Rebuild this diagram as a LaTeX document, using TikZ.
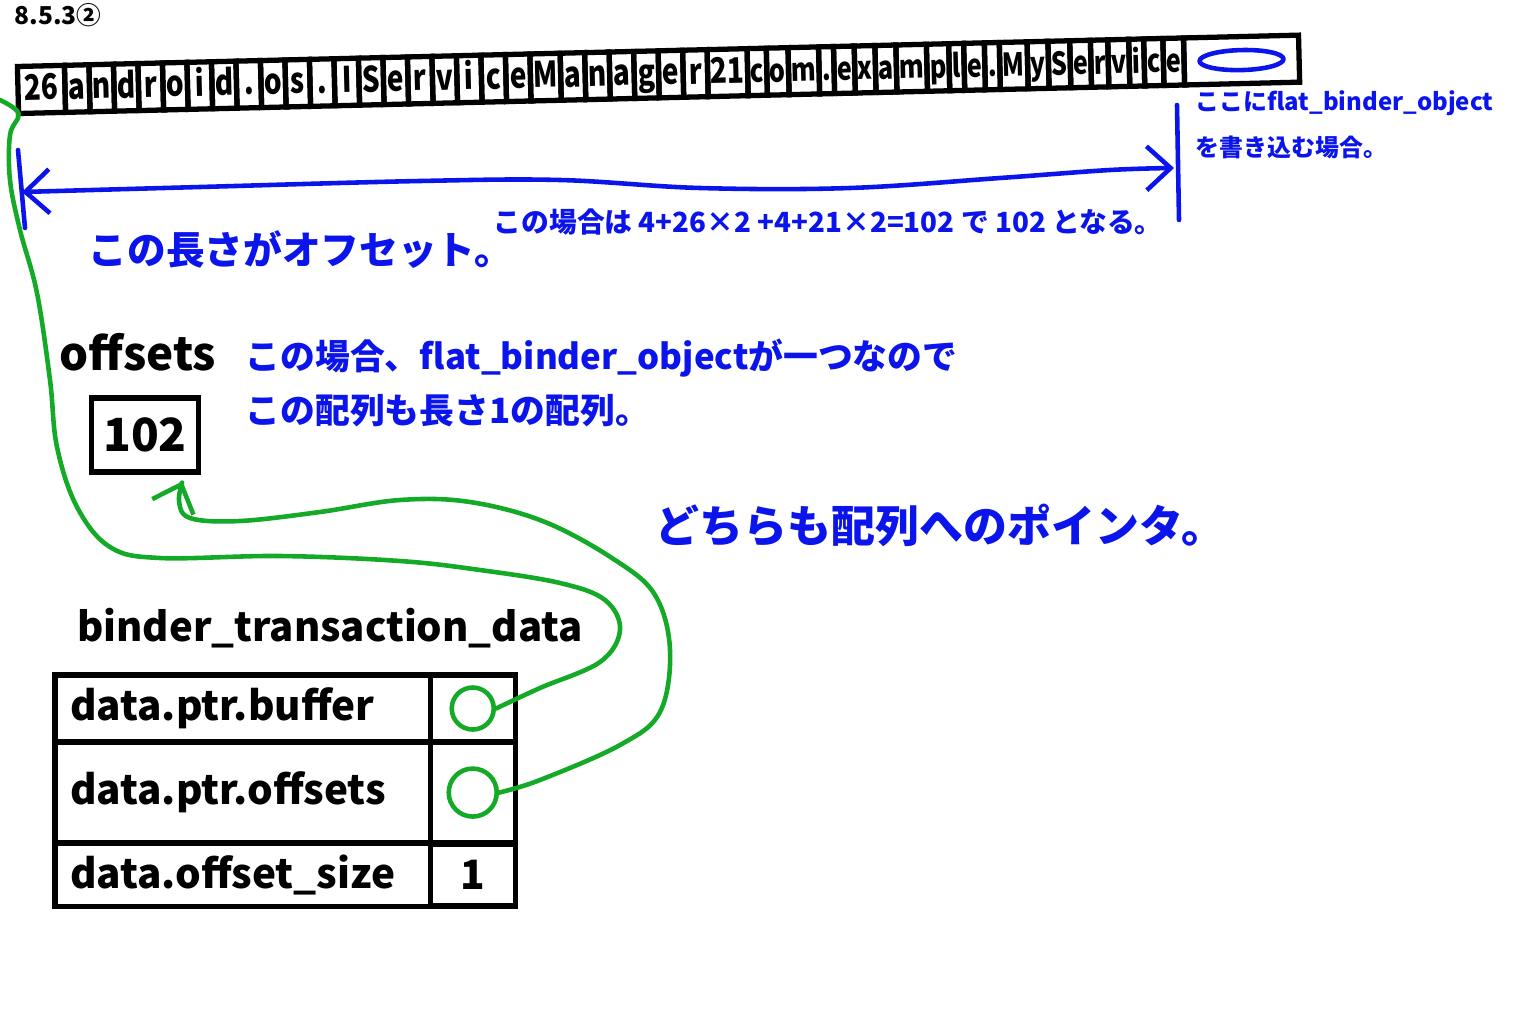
\documentclass[tikz,border=0pt]{standalone}
\usepackage{fontspec}
\setmainfont{Noto Sans CJK JP}
\newfontfamily\cellfont[FakeStretch=0.8]{Noto Sans CJK JP}
\usetikzlibrary{arrows.meta,positioning}
\definecolor{penblue}{RGB}{10,20,235}
\definecolor{pengreen}{RGB}{20,170,40}

\begin{document}
\begin{tikzpicture}[x=0.01cm,y=-0.01cm,every node/.style={font=\bfseries},
    cell/.style={draw,line width=1.5pt,outer sep=0pt,inner xsep=0.8pt,inner ysep=0pt,
      minimum height=0.47cm,text height=1.55ex,text depth=0.45ex,
      font=\fontsize{10}{12}\cellfont\bfseries},
    field/.style={draw,line width=1.5pt,outer sep=0pt,text width=3.45cm,inner xsep=0.15cm,
      align=left,font=\fontsize{11.5}{14}\selectfont\bfseries},
    slot/.style={draw,line width=1.5pt,outer sep=0pt,minimum width=0.85cm,inner sep=0pt,
      font=\fontsize{11.5}{14}\selectfont\bfseries},
    bluepen/.style={penblue,line width=1.3pt,line cap=round,line join=round},
    greenpen/.style={pengreen,line width=1.3pt,line cap=round,line join=round},
    note/.style={text=penblue,anchor=west,inner sep=0pt,align=left},
    handbarb/.tip={Straight Barb[length=2.4mm,width=4.4mm]}]
  \useasboundingbox (0,0) rectangle (1536,1024);

  \node[anchor=west,font=\fontsize{7}{8}\selectfont\bfseries] (secno) at (2,15) {8.5.3②};

  % the parcel data: length + chars, then the object
  \begin{scope}[shift={(18,90)},rotate=1.4,transform shape]
    \node[cell,minimum width=0.47cm,anchor=west] (c0) at (0,0) {26};
    \foreach \ch [count=\i from 1,remember=\i as \j (initially 0)] in
      {a,n,d,r,o,i,d,.,o,s,.,I,S,e,r,v,i,c,e,M,a,n,a,g,e,r}
      \node[cell,minimum width=0.245cm,right=0pt of c\j] (c\i) {\ch};
    \node[cell,minimum width=0.40cm,right=0pt of c26] (c27) {21};
    \foreach \ch [count=\i from 28,remember=\i as \j (initially 27)] in
      {c,o,m,.,e,x,a,m,p,l,e,.,M,y,S,e,r,v,i,c,e}
      \node[cell,minimum width=0.15cm,font=\fontsize{9}{11}\cellfont\bfseries,
        right=0pt of c\j] (c\i) {\ch};
    \node[cell,minimum width=1.15cm,right=0pt of c48] (c49) {};
    \draw[bluepen] (c49.center) ellipse [x radius=0.42cm,y radius=0.1cm];
  \end{scope}

  % offset dimension
  \coordinate (barLtop) at (18,150);
  \coordinate (barLbot) at (25,228);
  \coordinate (barRtop) at (1177,105);
  \coordinate (barRbot) at (1179,220);
  \coordinate (lenL) at (22,192);
  \coordinate (lenR) at (1174,168);
  \draw[bluepen] (barLtop) -- (barLbot);
  \draw[bluepen] (barRtop) -- (barRbot);
  \draw[bluepen,{handbarb}-{handbarb}] plot[smooth,tension=0.6] coordinates
    {(lenL) (200,187) (420,181) (560,180) (700,188) (850,188) (1000,178) (1110,170) (lenR)};

  \node[note,anchor=north west,font=\fontsize{6.8}{13}\selectfont\bfseries] (wherenote) at (1195,90)
    {ここにflat\_binder\_object\\を書き込む場合。};
  \node[note,font=\fontsize{11}{13}\selectfont\bfseries] (lennote) at (88,250) {この長さがオフセット。};
  \node[note,font=\fontsize{7.9}{10}\selectfont\bfseries] (calcnote) at (493,222)
    {この場合は 4+26×2 +4+21×2=102 で 102 となる。};

  % offsets array
  \node[font=\fontsize{13}{15}\selectfont\bfseries] (offlabel) at (138,352) {offsets};
  \node[draw,line width=1.5pt,minimum width=1.04cm,minimum height=0.74cm,
    font=\fontsize{13}{15}\selectfont\bfseries] (offbox) at (145,435) {102};
  \node[note,font=\fontsize{9.9}{15.5}\selectfont\bfseries] (countnote) at (245,383)
    {この場合、flat\_binder\_objectが一つなので\\この配列も長さ1の配列。};
  \node[note,font=\fontsize{12.5}{15}\selectfont\bfseries] (ptrnote) at (655,525) {どちらも配列へのポインタ。};

  % binder_transaction_data
  \node[font=\fontsize{11.4}{14}\selectfont\bfseries] (bttitle) at (330,628) {binder\_transaction\_data};
  \node[field,minimum height=0.67cm,anchor=north west] (fbuf) at (55,675) {data.ptr.buffer};
  \node[slot,minimum height=0.67cm,right=0pt of fbuf] (vbuf) {};
  \node[field,minimum height=1.01cm,below=0pt of fbuf] (foff) {data.ptr.offsets};
  \node[slot,minimum height=1.01cm,right=0pt of foff] (voff) {};
  \node[field,minimum height=0.62cm,below=0pt of foff] (fsize) {data.offset\_size};
  \node[slot,minimum height=0.62cm,right=0pt of fsize] (vsize) {1};

  \node[draw=pengreen,line width=1.3pt,circle,minimum size=0.42cm,inner sep=0pt] (bufptr) at (vbuf) {};
  \node[draw=pengreen,line width=1.3pt,circle,minimum size=0.48cm,inner sep=0pt] (offptr) at (voff) {};
  \coordinate (bufhook) at (0,100);

  \draw[greenpen] plot[smooth,tension=0.6] coordinates
    {(bufptr.east) (540,688) (600,662) (620,630) (605,600) (560,583) (480,570) (400,561)
     (280,556) (160,558) (110,547) (77,507) (57,447) (50,380) (37,293) (20,230) (10,180)
     (10,135) (c0.south west) (bufhook)};
  \draw[greenpen,-{handbarb},shorten >=2pt] plot[smooth,tension=0.6] coordinates
    {(offptr.east) (540,780) (620,745) (660,712) (670,650) (655,595) (615,560) (545,522)
     (470,502) (400,500) (320,512) (240,521) (190,518) (179,500) ([xshift=0.4cm]offbox.south)};
\end{tikzpicture}
\end{document}
